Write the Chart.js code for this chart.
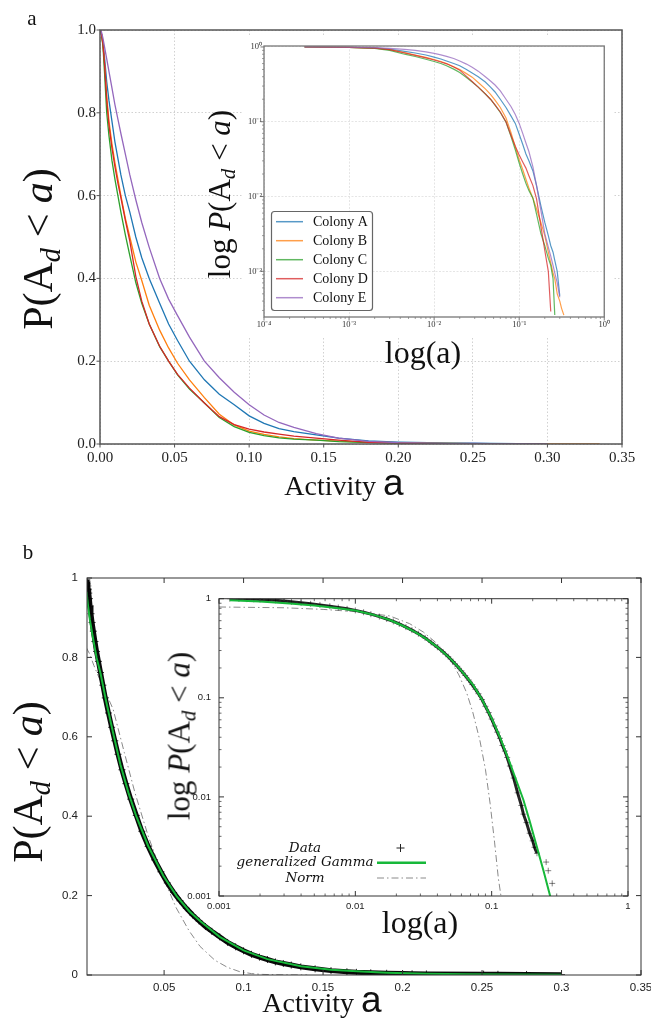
<!DOCTYPE html>
<html><head><meta charset="utf-8">
<script src="https://cdn.jsdelivr.net/npm/chart.js@4.4.1/dist/chart.umd.min.js"></script>
<style>
html,body{margin:0;padding:0;background:#fff;width:651px;height:1019px;overflow:hidden;position:relative}
canvas{position:absolute}
.t{position:absolute;white-space:nowrap;font-family:'Liberation Serif','Times New Roman',serif;color:#111;line-height:1;transform:translate(-50%,-50%);z-index:5}
.r{transform:translate(-50%,-50%) rotate(-90deg)}
.t sub{font-size:0.68em;vertical-align:-0.28em;line-height:0}
.sa{font-family:'Liberation Sans',Arial,sans-serif;font-size:1.32em;line-height:0}
</style></head><body>
<canvas id="cA" style="left:0;top:0;z-index:1" width="651" height="500"></canvas>
<canvas id="cAi" style="left:242px;top:35px;background:#fff;z-index:2" width="371" height="302"></canvas>
<canvas id="cB" style="left:0;top:520px;z-index:1" width="680" height="499"></canvas>
<canvas id="cBi" style="left:180px;top:585px;z-index:2" width="460" height="335"></canvas>

<div class="t" style="left:32px;top:18px;font-size:21px">a</div>
<div class="t r" style="left:38px;top:249px;font-size:42px">P(A<sub><i>d</i></sub> &lt; <i>a</i>)</div>
<div class="t" style="left:344px;top:486px;font-size:28px">Activity <span class="sa">a</span></div>
<div class="t r" style="left:219px;top:194px;font-size:31px">log <i>P</i>(A<sub><i>d</i></sub> &lt; <i>a</i>)</div>
<div class="t" style="left:423px;top:352px;font-size:32px">log(a)</div>

<div class="t" style="left:28px;top:552px;font-size:21px">b</div>
<div class="t r" style="left:28px;top:782px;font-size:42px">P(A<sub><i>d</i></sub> &lt; <i>a</i>)</div>
<div class="t" style="left:322px;top:1003px;font-size:28px">Activity <span class="sa">a</span></div>
<div class="t r" style="left:179px;top:736px;font-size:31px">log <i>P</i>(A<sub><i>d</i></sub> &lt; <i>a</i>)</div>
<div class="t" style="left:420px;top:922px;font-size:32px">log(a)</div>

<script>
// ---------- Panel a data ----------
const colonyNames = ['Colony A','Colony B','Colony C','Colony D','Colony E'];
const colonyColors = ['#1f77b4','#ff7f0e','#2ca02c','#d62728','#9467bd'];
const activityA = [0.0003,0.001,0.002,0.003,0.0045,0.006,0.008,0.01,0.012,0.014,0.017,0.02,0.024,0.028,0.033,0.04,0.046,0.052,0.06,0.07,0.08,0.09,0.1,0.11,0.12,0.13,0.145,0.16,0.18,0.2,0.22,0.235,0.25,0.262,0.28,0.3,0.315,0.335];
const colonyA = [1,0.99,0.97,0.935,0.875,0.83,0.78,0.73,0.69,0.65,0.6,0.56,0.5,0.45,0.4,0.34,0.29,0.25,0.2,0.155,0.12,0.095,0.068,0.05,0.037,0.03,0.022,0.014,0.0075,0.0045,0.003,0.0022,0.0018,0.0014,0.001,0.00047,null,null];
const colonyB = [1,0.99,0.965,0.92,0.84,0.78,0.725,0.68,0.64,0.6,0.545,0.5,0.44,0.395,0.335,0.275,0.232,0.195,0.155,0.112,0.072,0.046,0.031,0.023,0.017,0.013,0.0095,0.0068,0.0045,0.003,0.0018,0.0013,0.00095,0.0008,0.0005,0.0004,0.00032,0.00026];
const colonyC = [1,0.99,0.96,0.9,0.8,0.745,0.685,0.64,0.6,0.56,0.505,0.455,0.39,0.34,0.29,0.235,0.2,0.167,0.133,0.099,0.064,0.042,0.028,0.02,0.015,0.012,0.0095,0.0058,0.0032,0.0022,0.0015,0.0012,0.0008,0.00026,null,null,null,null];
const colonyD = [1,0.99,0.965,0.92,0.83,0.77,0.715,0.67,0.63,0.595,0.54,0.49,0.405,0.345,0.29,0.236,0.2,0.168,0.135,0.099,0.066,0.047,0.036,0.029,0.024,0.019,0.014,0.0093,0.004,0.0019,0.001,0.00029,null,null,null,null,null,null];
const colonyE = [1,0.995,0.98,0.96,0.93,0.9,0.86,0.82,0.785,0.75,0.7,0.65,0.59,0.535,0.475,0.4,0.35,0.31,0.258,0.2,0.16,0.125,0.095,0.07,0.052,0.04,0.025,0.014,0.0065,0.0032,0.0021,0.0016,0.0012,0.00095,0.0007,0.00045,null,null];
const colonySeries = [colonyA, colonyB, colonyC, colonyD, colonyE];

const mainXTickLabelsA = ['0.00','0.05','0.10','0.15','0.20','0.25','0.30','0.35'];
const mainYTickLabelsA = ['0.0','0.2','0.4','0.6','0.8','1.0'];
const logXTickValuesA = [1e-4,1e-3,1e-2,1e-1,1];
const logXTickLabelsA = ['10\u207B\u2074','10\u207B\u00B3','10\u207B\u00B2','10\u207B\u00B9','10\u2070'];
const logYTickValuesA = [1e-3,1e-2,1e-1,1];
const logYTickLabelsA = ['10\u207B\u00B3','10\u207B\u00B2','10\u207B\u00B9','10\u2070'];

// ---------- Panel b data ----------
const dataActivityB = [0.0012,0.0014,0.0016,0.0018,0.002,0.0023,0.0026,0.003,0.0034,0.004,0.0047,0.0055,0.0065,0.0075,0.0087,0.01,0.0115,0.013,0.015,0.017,0.019,0.021,0.0235,0.026,0.029,0.0325,0.036,0.04,0.044,0.048,0.052,0.056,0.06,0.064,0.068,0.072,0.076,0.08,0.085,0.09,0.095,0.1,0.105,0.11,0.115,0.12,0.125,0.13,0.136,0.145,0.155,0.165,0.171,0.18,0.19,0.2,0.206,0.215,0.251,0.26,0.278,0.3];
const dataProbB = [1.0,0.995,0.99,0.985,0.98,0.972,0.962,0.948,0.93,0.91,0.888,0.866,0.84,0.815,0.79,0.762,0.73,0.698,0.66,0.624,0.59,0.556,0.517,0.482,0.443,0.402,0.362,0.324,0.29,0.26,0.232,0.208,0.187,0.168,0.151,0.136,0.122,0.11,0.096,0.082,0.071,0.061,0.052,0.045,0.039,0.033,0.029,0.025,0.0205,0.0155,0.011,0.0082,0.0067,0.0055,0.0043,0.0036,0.0031,0.0027,0.0022,0.0018,0.00134,0.0009];
const gammaActivityB = [0.0012,0.002,0.0033,0.005,0.0075,0.01,0.0135,0.0179,0.0225,0.0275,0.0325,0.04,0.0495,0.058,0.066,0.073,0.085,0.1,0.115,0.136,0.155,0.171,0.19,0.215,0.24,0.2685,0.3];
const gammaProbB = [0.965,0.935,0.895,0.855,0.8,0.76,0.69,0.61,0.53,0.46,0.4,0.325,0.25,0.198,0.16,0.135,0.096,0.062,0.04,0.022,0.0135,0.0093,0.0057,0.0031,0.0018,0.001,0.0005];
const normActivityB = [0.001,0.003,0.0058,0.01,0.0179,0.025,0.0316,0.04,0.0495,0.0575,0.0656,0.0726,0.082,0.09,0.0975,0.105,0.112,0.117,0.125,0.14];
const normProbB = [0.825,0.81,0.78,0.74,0.67,0.56,0.46,0.35,0.245,0.17,0.112,0.072,0.037,0.019,0.0085,0.0035,0.0015,0.001,0.0004,0.00005];
const legendLabelsB = ['Data','generalized Gamma','Norm'];

const mainXTickLabelsB = ['0.05','0.1','0.15','0.2','0.25','0.3','0.35'];
const mainYTickLabelsB = ['0','0.2','0.4','0.6','0.8','1'];
const logTickValuesB = [0.001,0.01,0.1,1];
const logTickLabelsB = ['0.001','0.01','0.1','1'];

// ---------- helpers ----------
const pts = (xs, ys) => xs.map((x,i)=>({x, y: ys[i]})).filter(p => p.y !== null);
const fade = (hex, a) => { const n = parseInt(hex.slice(1),16); return `rgba(${n>>16},${(n>>8)&255},${n&255},${a})`; };
const setTicks = vals => axis => { axis.ticks = vals.map(v => ({value: v})); };
function logMinors(lo, hi){ const out=[]; for(let e=Math.floor(Math.log10(lo)); e<=Math.ceil(Math.log10(hi)); e++) for(let m=2;m<=9;m++){ const v=m*Math.pow(10,e); if(v>lo*1.0001 && v<hi*0.9999) out.push(v);} return out; }

let pid = 0;
function decor(cfg){
  return { id: 'decor'+(pid++), afterDraw(chart){
    const {ctx, chartArea: ca} = chart;
    ctx.save();
    (cfg.marks||[]).forEach(m => {
      const sc = chart.scales[m.axis];
      ctx.strokeStyle = m.color; ctx.lineWidth = m.width || 1;
      ctx.beginPath();
      m.values.forEach(v => {
        if (v < sc.min*0.99999 || v > sc.max*1.00001) return;
        const p = sc.getPixelForValue(v);
        const d = m.inward ? m.len : -m.len;
        m.sides.forEach(s => {
          if (s==='bottom'){ ctx.moveTo(p, ca.bottom); ctx.lineTo(p, ca.bottom - d); }
          if (s==='top'){ ctx.moveTo(p, ca.top); ctx.lineTo(p, ca.top + d); }
          if (s==='left'){ ctx.moveTo(ca.left, p); ctx.lineTo(ca.left + d, p); }
          if (s==='right'){ ctx.moveTo(ca.right, p); ctx.lineTo(ca.right - d, p); }
        });
      });
      ctx.stroke();
    });
    if (cfg.frame){ ctx.strokeStyle = cfg.frame.color; ctx.lineWidth = cfg.frame.width; ctx.strokeRect(ca.left, ca.top, ca.right-ca.left, ca.bottom-ca.top); }
    if (cfg.legend) cfg.legend(ctx, ca);
    ctx.restore();
  }};
}

function scaleOpts(o){
  return {
    type: o.type || 'linear', min: o.min, max: o.max, bounds: 'data',
    afterBuildTicks: setTicks(o.values),
    afterFit: o.axis==='y' ? (s => { s.width = o.size; }) : (s => { s.height = o.size; }),
    ticks: { autoSkip:false, maxRotation:0, padding:o.pad, color:o.tcolor||'#222',
      font:{family:o.family, size:o.fsize}, callback:(v,i)=>o.labels[i] },
    grid: o.grid ? { color:o.grid.color, lineWidth:o.grid.width, drawTicks:false } : { display:false, drawTicks:false },
    border: { display:false, dash: o.grid ? o.grid.dash : [] }
  };
}

const common = { responsive:false, animation:false, devicePixelRatio:1,
  plugins:{ legend:{display:false}, tooltip:{enabled:false} },
  elements:{ line:{ tension:0 }, point:{ radius:0 } } };

// ---------- Panel a main ----------
const serif = "'Liberation Serif','Times New Roman',serif";
const sans = "'Liberation Sans',Arial,sans-serif";
const mainXValsA = mainXTickLabelsA.map(parseFloat), mainYValsA = mainYTickLabelsA.map(parseFloat);
new Chart(document.getElementById('cA'), {
  type:'line',
  data:{ datasets: colonySeries.map((s,i)=>({ label: colonyNames[i], data: pts(activityA, s), borderColor: colonyColors[i], borderWidth:1.3, order:5-i })) },
  options:{ ...common, layout:{ padding:{ top:30, right:29, left:0, bottom:0 } },
    scales:{
      x: scaleOpts({axis:'x', min:0, max:0.35, values:mainXValsA, labels:mainXTickLabelsA, size:56, pad:5, family:serif, fsize:15, grid:{color:'#cccccc', width:0.9, dash:[1.5,2]}}),
      y: scaleOpts({axis:'y', min:0, max:1, values:mainYValsA, labels:mainYTickLabelsA, size:100, pad:4, family:serif, fsize:15, grid:{color:'#cccccc', width:0.9, dash:[1.5,2]}})
    } },
  plugins:[ decor({ frame:{color:'#555', width:1.5}, marks:[
    {axis:'x', values:mainXValsA, sides:['bottom'], len:3.5, color:'#555', width:1},
    {axis:'y', values:mainYValsA, sides:['left'], len:3.5, color:'#555', width:1} ] }) ]
});

// ---------- Panel a inset ----------
function legendA(ctx, ca){
  const x = ca.left + 7, y = ca.bottom - 106, w = 101, h = 99;
  ctx.fillStyle = 'rgba(255,255,255,0.9)'; ctx.strokeStyle = '#666'; ctx.lineWidth = 1.2;
  ctx.beginPath(); ctx.roundRect(x+0.5, y+0.5, w, h, 3); ctx.fill(); ctx.stroke();
  ctx.font = "14px " + serif; ctx.textBaseline = 'middle'; ctx.textAlign = 'left';
  colonyNames.forEach((n,i) => {
    const yy = y + 10.7 + i*19;
    ctx.strokeStyle = fade(colonyColors[i], 0.75); ctx.lineWidth = 1.5;
    ctx.beginPath(); ctx.moveTo(x+5, yy); ctx.lineTo(x+32, yy); ctx.stroke();
    ctx.fillStyle = '#111'; ctx.fillText(n, x+42, yy+1);
  });
}
new Chart(document.getElementById('cAi'), {
  type:'line',
  data:{ datasets: colonySeries.map((s,i)=>({ label: colonyNames[i], data: pts(activityA, s), borderColor: fade(colonyColors[i],0.75), borderWidth:1.2, order:5-i })) },
  options:{ ...common, layout:{ padding:{ top:11, right:8, left:0, bottom:0 } },
    scales:{
      x: scaleOpts({axis:'x', type:'logarithmic', min:1e-4, max:1, values:logXTickValuesA, labels:logXTickLabelsA, size:20, pad:3, family:serif, fsize:8.5, tcolor:'#333', grid:{color:'#e2e2e2', width:0.9, dash:[2,1.5]}}),
      y: scaleOpts({axis:'y', type:'logarithmic', min:2.45e-4, max:1.03, values:logYTickValuesA, labels:logYTickLabelsA, size:22, pad:2, family:serif, fsize:8.5, tcolor:'#333', grid:{color:'#e2e2e2', width:0.9, dash:[2,1.5]}})
    } },
  plugins:[ decor({ frame:{color:'#777', width:1.3}, legend: legendA, marks:[
    {axis:'x', values:logXTickValuesA, sides:['bottom'], len:3.5, color:'#666', width:0.9},
    {axis:'y', values:logYTickValuesA, sides:['left'], len:3.5, color:'#666', width:0.9},
    {axis:'x', values:logMinors(1e-4,1), sides:['bottom'], len:2, color:'#777', width:0.7},
    {axis:'y', values:logMinors(2.45e-4,1.03), sides:['left'], len:2, color:'#777', width:0.7} ] }) ]
});

// ---------- Panel b main ----------
const green = '#17b83a';
const mainXValsB = mainXTickLabelsB.map(parseFloat), mainYValsB = mainYTickLabelsB.map(parseFloat);
new Chart(document.getElementById('cB'), {
  type:'line',
  data:{ datasets:[
    { label:legendLabelsB[1], data: pts(gammaActivityB, gammaProbB), borderColor:green, borderWidth:2, order:0 },
    { label:legendLabelsB[0], data: pts(dataActivityB, dataProbB), borderColor:'#0a0a0a', borderWidth:5, pointStyle:'cross', pointRadius:3.5, pointBorderColor:'rgba(0,0,0,0.8)', pointBorderWidth:1, order:1 },
    { label:legendLabelsB[2], data: pts(normActivityB, normProbB), borderColor:'#8a8a8a', borderWidth:1, borderDash:[7,3,1.5,3], order:2 }
  ] },
  options:{ ...common, layout:{ padding:{ top:58, right:39, left:0, bottom:0 } },
    scales:{
      x: scaleOpts({axis:'x', min:0.0015, max:0.35, values:mainXValsB, labels:mainXTickLabelsB, size:44, pad:6, family:sans, fsize:11.5}),
      y: scaleOpts({axis:'y', min:0, max:1, values:mainYValsB, labels:mainYTickLabelsB, size:87, pad:9, family:sans, fsize:11.5})
    } },
  plugins:[ decor({ frame:{color:'#333', width:1}, marks:[
    {axis:'x', values:mainXValsB, sides:['bottom','top'], len:5, inward:true, color:'#333', width:1},
    {axis:'y', values:mainYValsB, sides:['left','right'], len:5, inward:true, color:'#333', width:1} ] }) ]
});

// ---------- Panel b inset ----------
function legendB(ctx, ca){
  const cx = ca.left + 86, ys = [ca.bottom-48, ca.bottom-33.3, ca.bottom-18];
  const x0 = ca.left + 158, x1 = ca.left + 207;
  ctx.font = "italic 13.5px 'DejaVu Serif',serif"; ctx.textAlign = 'center'; ctx.textBaseline = 'middle'; ctx.fillStyle = '#111';
  legendLabelsB.forEach((l,i) => ctx.fillText(l, cx, ys[i]));
  const px = ca.left + 181.5;
  ctx.strokeStyle = '#222'; ctx.lineWidth = 1;
  ctx.beginPath(); ctx.moveTo(px-4, ys[0]); ctx.lineTo(px+4, ys[0]); ctx.moveTo(px, ys[0]-4); ctx.lineTo(px, ys[0]+4); ctx.stroke();
  ctx.strokeStyle = green; ctx.lineWidth = 2.5;
  ctx.beginPath(); ctx.moveTo(x0, ys[1]); ctx.lineTo(x1, ys[1]); ctx.stroke();
  ctx.strokeStyle = '#8a8a8a'; ctx.lineWidth = 1; ctx.setLineDash([7,3,1.5,3]);
  ctx.beginPath(); ctx.moveTo(x0, ys[2]); ctx.lineTo(x1, ys[2]); ctx.stroke(); ctx.setLineDash([]);
}
new Chart(document.getElementById('cBi'), {
  type:'line',
  data:{ datasets:[
    { label:legendLabelsB[1], data: pts(gammaActivityB, gammaProbB), borderColor:green, borderWidth:2, order:0 },
    { label:legendLabelsB[0], data: pts(dataActivityB, dataProbB), borderColor:'rgba(0,0,0,0.85)', borderWidth:3,
      segment:{ borderColor: c => c.p0.parsed.x >= 0.214 ? 'rgba(0,0,0,0)' : 'rgba(0,0,0,0.85)' },
      pointStyle:'cross', pointRadius:3, pointBorderColor:'rgba(0,0,0,0.55)', pointBorderWidth:0.9, order:1 },
    { label:legendLabelsB[2], data: pts(normActivityB, normProbB), borderColor:'#8a8a8a', borderWidth:1, borderDash:[7,3,1.5,3], order:2 }
  ] },
  options:{ ...common, layout:{ padding:{ top:11, right:12, left:0, bottom:0 } },
    scales:{
      x: scaleOpts({axis:'x', type:'logarithmic', min:0.001, max:1, values:logTickValuesB, labels:logTickLabelsB, size:24, pad:5, family:sans, fsize:9.5}),
      y: scaleOpts({axis:'y', type:'logarithmic', min:0.001, max:1, values:logTickValuesB, labels:logTickLabelsB, size:39, pad:8, family:sans, fsize:9.5})
    } },
  plugins:[ decor({ frame:{color:'#333', width:1}, legend: legendB, marks:[
    {axis:'x', values:logTickValuesB, sides:['bottom','top'], len:5, inward:true, color:'#333', width:1},
    {axis:'y', values:logTickValuesB, sides:['left','right'], len:5, inward:true, color:'#333', width:1},
    {axis:'x', values:logMinors(0.001,1), sides:['bottom','top'], len:2.5, inward:true, color:'#444', width:0.8},
    {axis:'y', values:logMinors(0.001,1), sides:['left','right'], len:2.5, inward:true, color:'#444', width:0.8} ] }) ]
});
</script>
</body></html>
